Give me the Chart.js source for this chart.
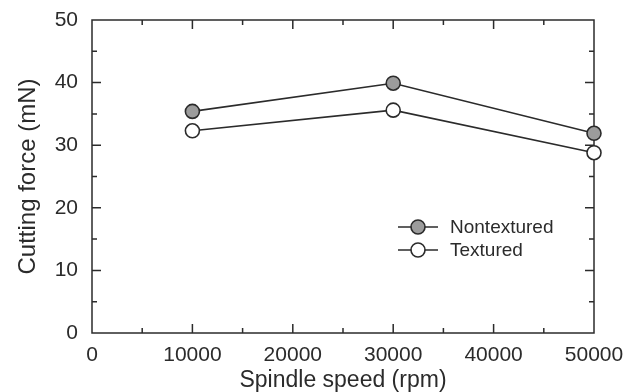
<!DOCTYPE html>
<html>
<head>
<meta charset="utf-8">
<script src="https://cdn.jsdelivr.net/npm/chart.js@4.4.1/dist/chart.umd.min.js"></script>
<style>
    html, body { margin: 0; padding: 0; background: #fff; }
    #wrap { width: 644px; height: 392px; }
</style>
</head>
<body>
<div id="wrap"><canvas id="forceChart"></canvas></div>
<script>
const speeds = [10000, 30000, 50000];
const nontextured = [35.4, 39.9, 31.9];
const textured = [32.3, 35.6, 28.8];
const seriesNames = ["Nontextured", "Textured"];
const xTitle = "Spindle speed (rpm)";
const yTitle = "Cutting force (mN)";

const ink = "#2b2b2b";
Chart.defaults.font.family = "'Liberation Sans', Arial, sans-serif";
Chart.defaults.color = ink;

// box around the plot with inward major/minor ticks on all four sides
const frameTicks = {
    id: "frameTicks",
    beforeDatasetsDraw(chart) {
        const { ctx, chartArea: a, scales: { x, y } } = chart;
        ctx.save();
        ctx.strokeStyle = ink;
        ctx.lineWidth = 1.5;
        ctx.strokeRect(a.left, a.top, a.right - a.left, a.bottom - a.top);
        ctx.beginPath();
        for (let v = x.min + 5000; v < x.max; v += 5000) {
            const px = x.getPixelForValue(v);
            const len = v % 10000 === 0 ? 9 : 5;
            ctx.moveTo(px, a.bottom); ctx.lineTo(px, a.bottom - len);
            ctx.moveTo(px, a.top); ctx.lineTo(px, a.top + len);
        }
        for (let v = y.min + 5; v < y.max; v += 5) {
            const py = y.getPixelForValue(v);
            const len = v % 10 === 0 ? 9 : 5;
            ctx.moveTo(a.left, py); ctx.lineTo(a.left + len, py);
            ctx.moveTo(a.right, py); ctx.lineTo(a.right - len, py);
        }
        ctx.stroke();
        ctx.restore();
    }
};

// legend inside the plot: line-marker-line then label
const innerLegend = {
    id: "innerLegend",
    afterDatasetsDraw(chart) {
        const { ctx, chartArea: a } = chart;
        chart.data.datasets.forEach((ds, i) => {
            const cx = a.left + 326;
            const cy = a.top + 207 + i * 23;
            ctx.save();
            ctx.strokeStyle = ds.borderColor;
            ctx.lineWidth = ds.borderWidth;
            ctx.beginPath();
            ctx.moveTo(cx - 20, cy); ctx.lineTo(cx + 20, cy);
            ctx.stroke();
            ctx.beginPath();
            ctx.arc(cx, cy, ds.pointRadius, 0, Math.PI * 2);
            ctx.fillStyle = ds.pointBackgroundColor;
            ctx.fill();
            ctx.lineWidth = ds.pointBorderWidth;
            ctx.stroke();
            ctx.fillStyle = ink;
            ctx.font = "19px 'Liberation Sans', Arial, sans-serif";
            ctx.textBaseline = "middle";
            ctx.fillText(ds.label, cx + 32, cy + 1);
            ctx.restore();
        });
    }
};

function series(label, values, fill) {
    return {
        label,
        data: speeds.map((s, i) => ({ x: s, y: values[i] })),
        borderColor: ink,
        borderWidth: 1.6,
        pointRadius: 7,
        pointHoverRadius: 7,
        pointBackgroundColor: fill,
        pointBorderColor: ink,
        pointBorderWidth: 1.6,
        tension: 0,
        clip: false
    };
}

new Chart(document.getElementById("forceChart").getContext("2d"), {
    type: "line",
    data: {
        datasets: [
            series(seriesNames[0], nontextured, "#9c9c9c"),
            series(seriesNames[1], textured, "#ffffff")
        ]
    },
    options: {
        responsive: true,
        maintainAspectRatio: false,
        animation: false,
        devicePixelRatio: 1,
        layout: { padding: { top: 20, right: 50, left: 0, bottom: 0 } },
        plugins: {
            legend: { display: false },
            tooltip: { enabled: false }
        },
        scales: {
            x: {
                type: "linear",
                min: 0,
                max: 50000,
                grid: { display: false },
                border: { display: false },
                ticks: {
                    stepSize: 10000,
                    padding: 2,
                    font: { size: 21 },
                    callback: v => String(v)
                },
                title: {
                    display: true,
                    text: xTitle,
                    font: { size: 23, lineHeight: 1.0 },
                    padding: { top: 0, bottom: 0 }
                },
                afterFit: s => { s.height = 59; }
            },
            y: {
                min: 0,
                max: 50,
                grid: { display: false },
                border: { display: false },
                ticks: {
                    stepSize: 10,
                    padding: 6,
                    font: { size: 21 },
                    callback: v => String(v)
                },
                title: {
                    display: true,
                    text: yTitle,
                    font: { size: 24 },
                    padding: { top: 14, bottom: 0 }
                },
                afterFit: s => { s.width = 92; }
            }
        }
    },
    plugins: [frameTicks, innerLegend]
});
</script>
</body>
</html>
